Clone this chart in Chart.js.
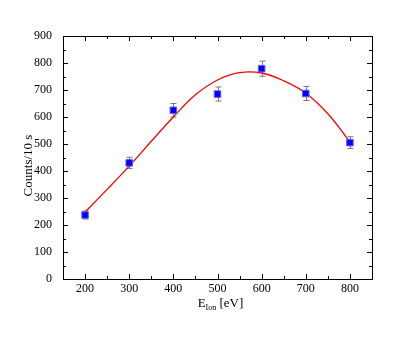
<!DOCTYPE html>
<html>
<head>
<meta charset="utf-8">
<script src="https://cdn.jsdelivr.net/npm/chart.js@4.4.0/dist/chart.umd.min.js"></script>
<style>
    html, body { margin: 0; padding: 0; background: #fff; }
    #wrap { width: 407px; height: 337px; }
</style>
</head>
<body>
<div id="wrap"><canvas id="chart" width="407" height="337"></canvas></div>
<script>
// measured points
const energies = [200, 300, 400, 500, 600, 700, 800];
const counts = [237, 430, 625, 685, 779, 687, 505];
const countErrors = [15, 21, 25, 26, 28, 26, 22];

// fit curve
const fitEnergies = [200, 250, 300, 350, 400, 450, 500, 550, 600, 650, 700, 750, 800];
const fitCounts = [248, 332, 418, 510, 600, 682, 737, 764, 763, 734, 688, 612, 508];

// axes
const xMajorTicks = [200, 300, 400, 500, 600, 700, 800];
const xMinorTicks = [150, 250, 350, 450, 550, 650, 750, 850];
const yMajorTicks = [0, 100, 200, 300, 400, 500, 600, 700, 800, 900];
const yMinorTicks = [50, 150, 250, 350, 450, 550, 650, 750, 850];

const FONT = "'Liberation Serif', 'Times New Roman', serif";

const framePlugin = {
    id: "frame",
    beforeDatasetsDraw(chart) {
        const ctx = chart.ctx;
        const xs = chart.scales.x, ys = chart.scales.y;
        // error bars
        ctx.save();
        ctx.strokeStyle = "#7a7a7a";
        ctx.lineWidth = 1;
        energies.forEach((e, i) => {
            const px = Math.round(xs.getPixelForValue(e)) + 0.5;
            const top = ys.getPixelForValue(counts[i] + countErrors[i]);
            const bot = ys.getPixelForValue(counts[i] - countErrors[i]);
            ctx.beginPath();
            ctx.moveTo(px, top); ctx.lineTo(px, bot);
            ctx.moveTo(px - 3, top); ctx.lineTo(px + 3, top);
            ctx.moveTo(px - 3, bot); ctx.lineTo(px + 3, bot);
            ctx.stroke();
        });
        ctx.restore();
    },
    afterDraw(chart) {
        const ctx = chart.ctx;
        const a = chart.chartArea;
        const xs = chart.scales.x, ys = chart.scales.y;
        ctx.save();
        ctx.strokeStyle = "#000";
        ctx.lineWidth = 1;
        ctx.strokeRect(Math.round(a.left) + 0.5, Math.round(a.top) + 0.5,
            Math.round(a.right - a.left), Math.round(a.bottom - a.top));

        // inward ticks on all four sides
        ctx.beginPath();
        const xTick = (v, len) => {
            const px = Math.round(xs.getPixelForValue(v)) + 0.5;
            ctx.moveTo(px, a.bottom); ctx.lineTo(px, a.bottom - len);
            ctx.moveTo(px, a.top); ctx.lineTo(px, a.top + len);
        };
        const yTick = (v, len) => {
            const py = Math.round(ys.getPixelForValue(v)) + 0.5;
            ctx.moveTo(a.left, py); ctx.lineTo(a.left + len, py);
            ctx.moveTo(a.right, py); ctx.lineTo(a.right - len, py);
        };
        xMajorTicks.forEach(v => xTick(v, 5));
        xMinorTicks.forEach(v => xTick(v, 3));
        yMajorTicks.forEach(v => yTick(v, 5));
        yMinorTicks.forEach(v => yTick(v, 3));
        ctx.stroke();

        // axis titles
        ctx.fillStyle = "#000";
        ctx.save();
        ctx.translate(29, (a.top + a.bottom) / 2 + 8);
        ctx.rotate(-Math.PI / 2);
        ctx.font = "13px " + FONT;
        ctx.textAlign = "center";
        ctx.textBaseline = "middle";
        ctx.fillText("Counts/10 s", 0, 0);
        ctx.restore();

        ctx.textBaseline = "alphabetic";
        ctx.textAlign = "left";
        const big = "13px " + FONT, small = "8px " + FONT;
        ctx.font = big; const wE = ctx.measureText("E").width;
        ctx.font = small; const wSub = ctx.measureText("Ion").width;
        ctx.font = big; const wRest = ctx.measureText(" [eV]").width;
        let x = 220.5 - (wE + wSub + wRest) / 2;
        const base = 307;
        ctx.font = big; ctx.fillText("E", x, base); x += wE;
        ctx.font = small; ctx.fillText("Ion", x, base + 2.5); x += wSub;
        ctx.font = big; ctx.fillText(" [eV]", x, base);
        ctx.restore();
    }
};

new Chart(document.getElementById("chart"), {
    type: "scatter",
    data: {
        datasets: [
            {
                label: "fit",
                data: fitEnergies.map((e, i) => ({ x: e, y: fitCounts[i] })),
                showLine: true,
                borderColor: "#ff0000",
                borderWidth: 1.3,
                pointRadius: 0,
                tension: 0.4,
                order: 2
            },
            {
                label: "data",
                data: energies.map((e, i) => ({ x: e, y: counts[i] })),
                pointStyle: "rect",
                pointRadius: 4.6,
                backgroundColor: "#0000ff",
                borderColor: "#5a5aff",
                borderWidth: 1,
                order: 1
            }
        ]
    },
    options: {
        responsive: false,
        devicePixelRatio: 1,
        animation: false,
        layout: { padding: { left: 0, top: 36, right: 35, bottom: 0 } },
        plugins: {
            legend: { display: false },
            tooltip: { enabled: false }
        },
        scales: {
            x: {
                type: "linear",
                min: 150,
                max: 850,
                grid: { display: false },
                border: { display: false },
                afterBuildTicks: s => { s.ticks = xMajorTicks.map(v => ({ value: v })); },
                afterFit: s => { s.height = 58; },
                ticks: { color: "#000", padding: -5, font: { family: FONT, size: 12 }, maxRotation: 0 }
            },
            y: {
                type: "linear",
                min: 0,
                max: 900,
                grid: { display: false },
                border: { display: false },
                afterBuildTicks: s => { s.ticks = yMajorTicks.map(v => ({ value: v })); },
                afterFit: s => { s.width = 63; },
                ticks: { color: "#000", padding: 3, font: { family: FONT, size: 12 } }
            }
        }
    },
    plugins: [framePlugin]
});
</script>
</body>
</html>
